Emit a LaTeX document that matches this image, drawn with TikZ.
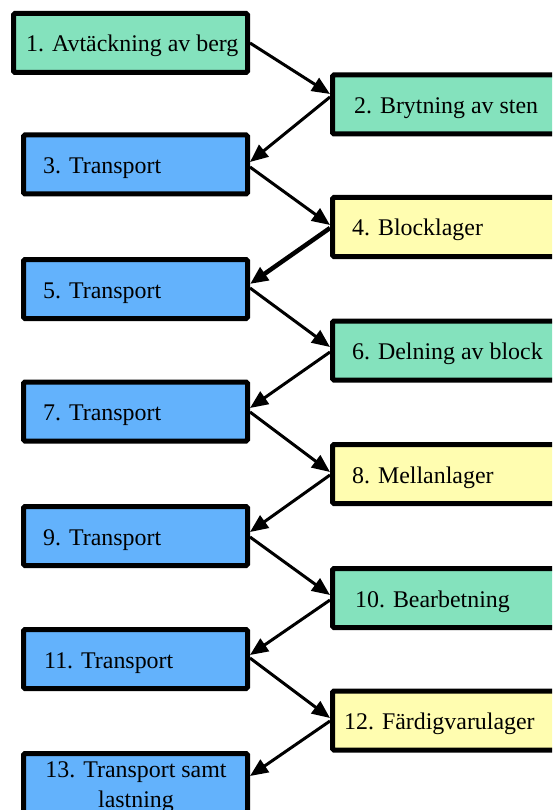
\documentclass[tikz,border=0pt]{standalone}
\usepackage{fontspec}
\setmainfont{Liberation Serif}
\usetikzlibrary{arrows.meta}
\definecolor{boxgreen}{RGB}{132,226,189}
\definecolor{boxblue}{RGB}{99,178,252}
\definecolor{boxyellow}{RGB}{255,253,176}
\tikzset{
  procbox/.style={draw=black, line width=5pt, rounded corners=1.5pt, minimum height=59pt, inner sep=0pt, outer sep=2.5pt},
  leftbox/.style={procbox, minimum width=224pt},
  rightbox/.style={procbox, minimum width=260pt},
  lbl/.style={anchor=base west, inner sep=0pt, font=\fontsize{23.9}{30}\selectfont},
  flow/.style={line width=3pt, -{Triangle[length=18pt,width=15pt]}},
}
\begin{document}
\begin{tikzpicture}[x=1pt,y=-1pt]
\clip (0,0) rectangle (552,810);
\fill[white] (0,0) rectangle (552,810);
% left column
\node[procbox, minimum width=234pt, fill=boxgreen] (n1) at (130.5,43) {};
\node[leftbox, fill=boxblue] (n3) at (135.5,164.5) {};
\node[leftbox, fill=boxblue] (n5) at (135.5,289) {};
\node[leftbox, fill=boxblue] (n7) at (135.5,411.5) {};
\node[leftbox, fill=boxblue] (n9) at (135.5,536) {};
\node[leftbox, fill=boxblue] (n11) at (135.5,659) {};
\node[leftbox, fill=boxblue] (n13) at (135.5,783) {};
% right column
\node[rightbox, fill=boxgreen] (n2) at (462.5,104.5) {};
\node[rightbox, fill=boxyellow] (n4) at (462.5,227) {};
\node[rightbox, fill=boxgreen] (n6) at (462.5,350.5) {};
\node[rightbox, fill=boxyellow] (n8) at (462.5,474) {};
\node[rightbox, fill=boxgreen] (n10) at (462.5,598) {};
\node[rightbox, fill=boxyellow] (n12) at (462.5,720.5) {};
% texts
\node[lbl] (t1) at (26,52) {1. Avtäckning av berg};
\node[lbl] (t3) at (43,173.5) {3. Transport};
\node[lbl] (t5) at (43,298) {5. Transport};
\node[lbl] (t7) at (43,420.5) {7. Transport};
\node[lbl] (t9) at (43,545) {9. Transport};
\node[lbl] (t11) at (44,668) {11. Transport};
\node[lbl, anchor=base, align=center] (t13) at (136,807) {13. Transport samt\\lastning};
\node[lbl] (t2) at (354,113.5) {2. Brytning av sten};
\node[lbl] (t4) at (352,236) {4. Blocklager};
\node[lbl] (t6) at (352,359.5) {6. Delning av block};
\node[lbl] (t8) at (352,483) {8. Mellanlager};
\node[lbl] (t10) at (355,607) {10. Bearbetning};
\node[lbl] (t12) at (344,729.5) {12. Färdigvarulager};
% connectors
\draw[flow] (n1.east |- 0,43) -- (n2.west |- 0,94);
\draw[flow] (n2.west |- 0,97) -- (n3.east |- 0,162);
\draw[flow] (n3.east |- 0,167) -- (n4.west |- 0,225);
\draw[flow, line width=4.5pt] (n4.west |- 0,228) -- (n5.east |- 0,284);
\draw[flow] (n5.east |- 0,288) -- (n6.west |- 0,347);
\draw[flow] (n6.west |- 0,352) -- (n7.east |- 0,408);
\draw[flow] (n7.east |- 0,412) -- (n8.west |- 0,472);
\draw[flow] (n8.west |- 0,475) -- (n9.east |- 0,532);
\draw[flow] (n9.east |- 0,537) -- (n10.west |- 0,595);
\draw[flow] (n10.west |- 0,600) -- (n11.east |- 0,655);
\draw[flow] (n11.east |- 0,658) -- (n12.west |- 0,718);
\draw[flow] (n12.west |- 0,721) -- (n13.east |- 0,776);
\end{tikzpicture}
\end{document}
